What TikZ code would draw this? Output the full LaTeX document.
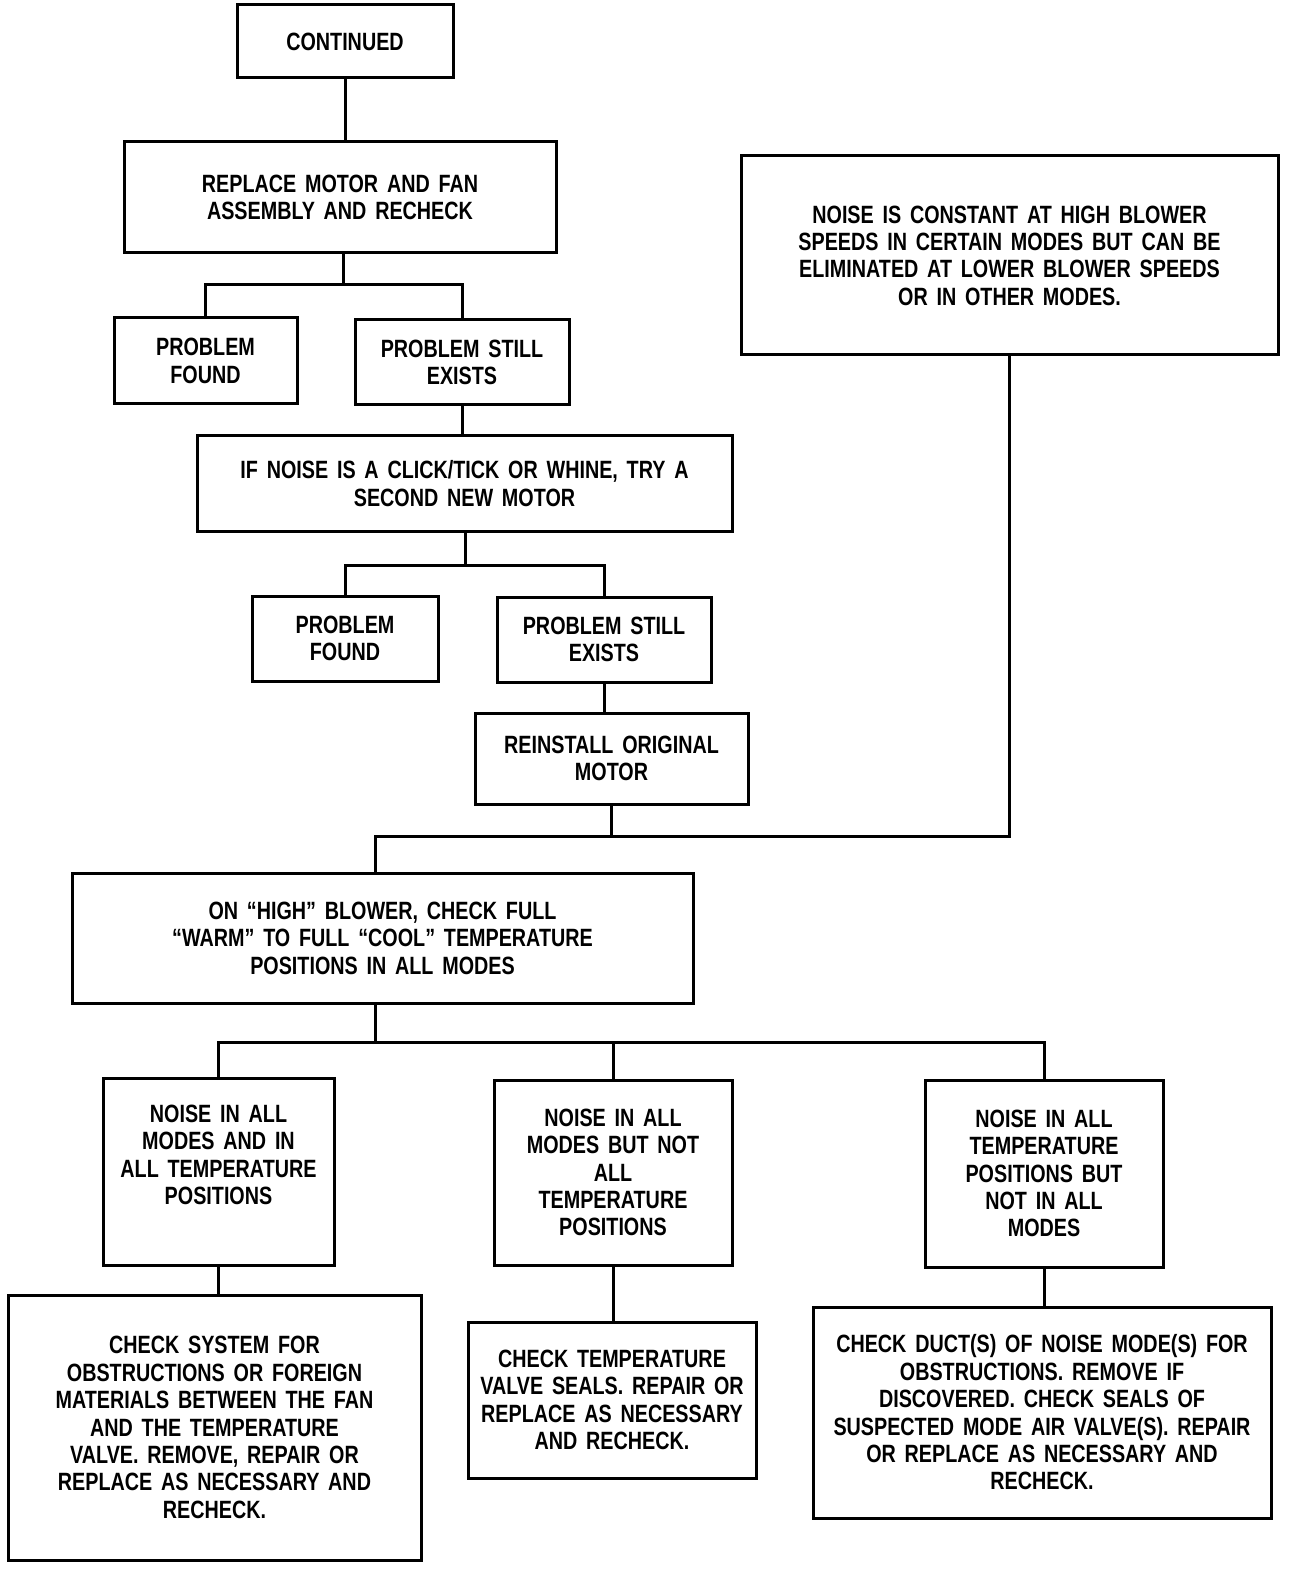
\documentclass[tikz,border=0pt]{standalone}
\usepackage{fontspec}
\setmainfont{Liberation Sans}[FakeStretch=0.79,WordSpace=1.6]
\newcommand{\fs}{\fontsize{12.5}{13.7}\selectfont\bfseries}
\begin{document}
\begin{tikzpicture}[x=0.5pt,y=-0.5pt,
  box/.style={draw, line width=1.5pt, rectangle, inner sep=0pt, align=center, font=\fs},
  txt/.style={inner sep=0pt, align=center, font=\fs},
  conn/.style={line width=1.5pt}]
\useasboundingbox (0,0) rectangle (1312,1582);
% boxes
\node[box, minimum width=108pt, minimum height=36.5pt] (cont) at (345,41.5) {CONTINUED};
\node[box, minimum width=216pt, minimum height=55.5pt] (repl) at (340,197.5) {REPLACE MOTOR AND FAN\\ASSEMBLY AND RECHECK};
\node[box, minimum width=91.5pt, minimum height=43pt] (pfa) at (205.5,361) {PROBLEM\\FOUND};
\node[box, minimum width=107pt, minimum height=42.5pt] (psea) at (462,362.5) {PROBLEM STILL\\EXISTS};
\node[box, minimum width=267.5pt, minimum height=47.5pt] (ifn) at (464.5,483.5) {IF NOISE IS A CLICK/TICK OR WHINE, TRY A\\SECOND NEW MOTOR};
\node[box, minimum width=93pt, minimum height=42.5pt] (pfb) at (345,638.5) {PROBLEM\\FOUND};
\node[box, minimum width=107pt, minimum height=42.5pt] (pseb) at (604,639.5) {PROBLEM STILL\\EXISTS};
\node[box, minimum width=136.5pt, minimum height=45.5pt] (rein) at (611.5,758.5) {REINSTALL ORIGINAL\\MOTOR};
\node[box, minimum width=268.5pt, minimum height=99.5pt] (const) at (1009.5,255.5) {NOISE IS CONSTANT AT HIGH BLOWER\\SPEEDS IN CERTAIN MODES BUT CAN BE\\ELIMINATED AT LOWER BLOWER SPEEDS\\OR IN OTHER MODES.};
\node[box, minimum width=310.5pt, minimum height=65pt] (high) at (382.5,938) {ON “HIGH” BLOWER, CHECK FULL\\“WARM” TO FULL “COOL” TEMPERATURE\\POSITIONS IN ALL MODES};
\node[box, minimum width=115.5pt, minimum height=93.5pt] (na) at (218.5,1171.5) {};
\node[txt] (nat) at (218.5,1155) {NOISE IN ALL\\MODES AND IN\\ALL TEMPERATURE\\POSITIONS};
\node[box, minimum width=119pt, minimum height=92.5pt] (nb) at (613,1172.5) {NOISE IN ALL\\MODES BUT NOT\\ALL\\TEMPERATURE\\POSITIONS};
\node[box, minimum width=119pt, minimum height=93.5pt] (nc) at (1044,1173.5) {NOISE IN ALL\\TEMPERATURE\\POSITIONS BUT\\NOT IN ALL\\MODES};
\node[box, minimum width=206.5pt, minimum height=132.5pt] (ca) at (214.5,1427.5) {CHECK SYSTEM FOR\\OBSTRUCTIONS OR FOREIGN\\MATERIALS BETWEEN THE FAN\\AND THE TEMPERATURE\\VALVE. REMOVE, REPAIR OR\\REPLACE AS NECESSARY AND\\RECHECK.};
\node[box, minimum width=144pt, minimum height=78pt] (cb) at (612,1400) {CHECK TEMPERATURE\\VALVE SEALS. REPAIR OR\\REPLACE AS NECESSARY\\AND RECHECK.};
\node[box, minimum width=229pt, minimum height=105.5pt] (cc) at (1042,1412.5) {CHECK DUCT(S) OF NOISE MODE(S) FOR\\OBSTRUCTIONS. REMOVE IF\\DISCOVERED. CHECK SEALS OF\\SUSPECTED MODE AIR VALVE(S). REPAIR\\OR REPLACE AS NECESSARY AND\\RECHECK.};
% junctions
\coordinate (ja) at (343,285);
\coordinate (jb) at (465,565);
\coordinate (jc) at (375,836);
\coordinate (jd) at (375,1042);
% connectors
\draw[conn] (cont.south) -- (cont.south |- repl.north);
\draw[conn] (repl.south -| ja) -- (ja);
\draw[conn] (pfa.north) |- (ja) -| (psea.north);
\draw[conn] (psea.south) -- (psea.south |- ifn.north);
\draw[conn] (ifn.south -| jb) -- (jb);
\draw[conn] (pfb.north) |- (jb) -| (pseb.north);
\draw[conn] (pseb.south) -- (pseb.south |- rein.north);
\draw[conn] (rein.south) |- (jc);
\draw[conn] (const.south) |- (jc) -- (jc |- high.north);
\draw[conn] (high.south -| jd) -- (jd);
\draw[conn] (na.north) |- (jd) -| (nc.north);
\draw[conn] (nb.north) -- (nb.north |- jd);
\draw[conn] (na.south) -- (na.south |- ca.north);
\draw[conn] (nb.south) -- (nb.south |- cb.north);
\draw[conn] (nc.south) -- (nc.south |- cc.north);
\end{tikzpicture}
\end{document}
